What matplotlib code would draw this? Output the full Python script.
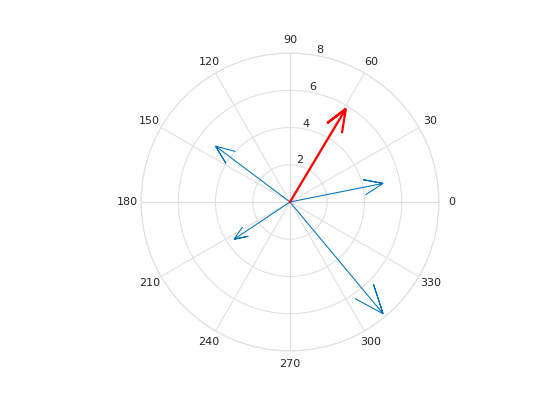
import numpy as np
import matplotlib
matplotlib.use("Agg")
import matplotlib.pyplot as plt

# vectors as complex numbers (compass plot)
blue_vecs = [5 + 1j, -4 + 3j, -3 - 2j, 5 - 6j]
red_vecs = [3 + 5j]
r_ticks = [2, 4, 6, 8]
theta_ticks = list(range(0, 360, 30))

fig = plt.figure(figsize=(5.6, 4.2), dpi=100)
ax = fig.add_axes([0.2518, 0.1643, 0.532, 0.7095], projection="polar")

def draw_arrow(z, color, lw):
    # compass-style arrow: shaft plus two head strokes
    a = np.array([0, 1, 0.8, 1, 0.8])
    b = np.array([0, 0, 0.08, 0, -0.08])
    pts = z * (a + 1j * b)
    ax.plot(np.angle(pts), np.abs(pts), color=color, lw=lw, solid_joinstyle="miter")

for z in blue_vecs:
    draw_arrow(z, "#0072BD", 0.75)
for z in red_vecs:
    draw_arrow(z, "#FF0000", 1.6)

ax.set_ylim(0, 8)
ax.set_rgrids(r_ticks, labels=[str(t) for t in r_ticks], angle=80,
              fontsize=8, color="#262626")
ax.set_thetagrids(theta_ticks, labels=[str(t) for t in theta_ticks],
                  fontsize=8, color="#262626")
ax.tick_params(axis="x", pad=-1)
ax.grid(True, color="#DFDFDF", lw=0.75)
ax.spines["polar"].set_color("#DFDFDF")
ax.spines["polar"].set_linewidth(0.75)

fig.savefig("out.png", dpi=100)
